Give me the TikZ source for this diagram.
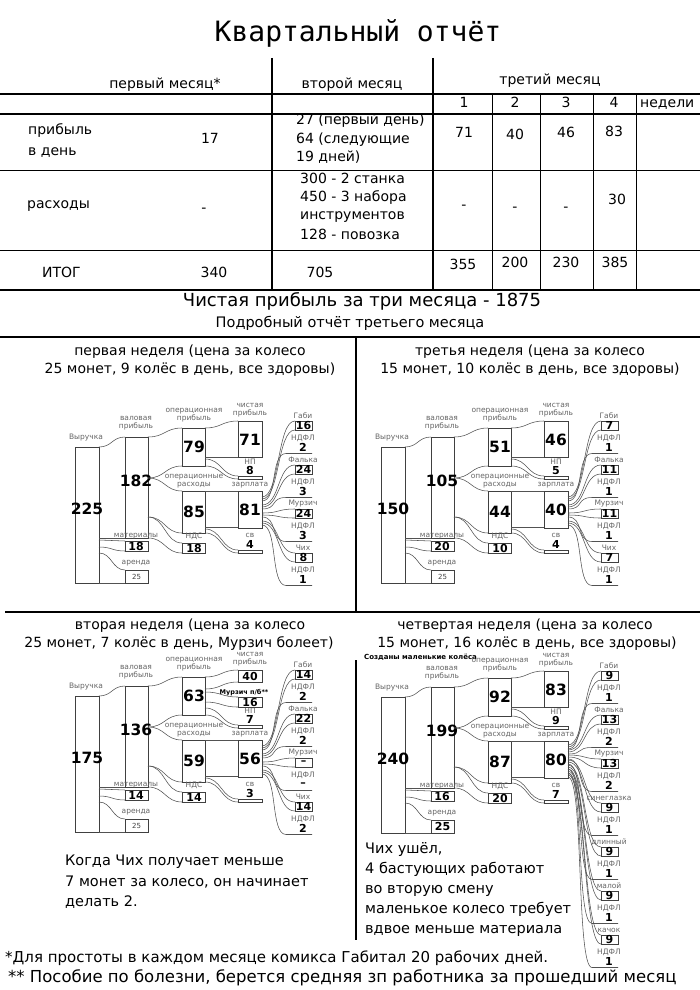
\documentclass[tikz,border=0pt]{standalone}
\usepackage{fontspec}
\setmainfont{DejaVu Sans}
\newfontfamily\monofnt{DejaVu Sans Mono}
\newcommand\flw[6]{%
 \draw[flow] (#1,#2) .. controls ({(#1+#4)/2},#2) and ({(#1+#4)/2},#5) .. (#4,#5);
 \draw[flow] (#1,#3) .. controls ({(#1+#4)/2},#3) and ({(#1+#4)/2},#6) .. (#4,#6);}
\newcommand\pers[6]{%
 \node[lbl] (\qp-#1-l) at (303,#2) {#4};
 \draw[bar] (295,#2+5) rectangle (312,#2+14);
 \node[pnum] (\qp-#1) at (303.5,#2+9.5) {#5};
 \draw[flow] (262,#3) .. controls (280,#3) and (277,#2+5) .. (295,#2+5);
 \draw[flow] (262,#3+2) .. controls (280,#3+2) and (277,#2+14) .. (295,#2+14);
 \node[lbl] (\qp-#1-tl) at (303,#2+22.5) {НДФЛ};
 \node[pnum] (\qp-#1-t) at (303,#2+31.5) {#6};
 \draw[flow] (262,#3+4) .. controls (278,#3+4) and (270,#2+37.5) .. (286,#2+37.5) -- (312,#2+37.5);}
\newcommand\drawsankey{%
 \draw[bar] (75,447) rectangle (99,583);
 \node[lbl] (\qp-revl) at (86,438) {Выручка};
 \node[bnum] (\qp-rev) at (87,509) {\vR};
 \draw[bar] (125,437) rectangle (148,538);
 \node[lbl] (\qp-grl) at (136,423) {валовая\\прибыль};
 \node[bnum] (\qp-gr) at (136,481) {\vG};
 \draw[bar] (182,428) rectangle (205,466);
 \node[lbl] (\qp-opl) at (194,415) {операционная\\прибыль};
 \node[bnum] (\qp-op) at (194,447) {\vOP};
 \draw[bar] (182,491) rectangle (205,533);
 \node[lbl] (\qp-oel) at (194,481) {операционные\\расходы};
 \node[bnum] (\qp-oe) at (194,512) {\vOE};
 \node[lbl] (\qp-netl) at (250,410) {чистая\\прибыль};
 \node[lbl] (\qp-npl) at (250,462) {НП};
 \node[pnum] (\qp-np) at (250,470.5) {\vNP};
 \draw[bar] (238,476) rectangle (262,479);
 \draw[bar] (238,491) rectangle (262,528);
 \node[lbl] (\qp-sall) at (250,485) {зарплата};
 \node[bnum] (\qp-sal) at (250,510) {\vS};
 \node[lbl] (\qp-svl) at (250,535) {св};
 \node[pnum] (\qp-sv) at (250,544) {\vSV};
 \draw[bar] (238,550) rectangle (262,553);
 \node[lbl] (\qp-matl) at (136,536) {материалы};
 \draw[bar] (125,541) rectangle (148,551);
 \node[pnum] (\qp-mat) at (136,546) {\vM};
 \node[lbl] (\qp-rentl) at (136,563) {аренда};
 \draw[bar] (125,570) rectangle (148,583);
 \node[\rentst] (\qp-rent) at (136.5,576.5) {25};
 \node[lbl] (\qp-ndsl) at (194,536) {НДС};
 \draw[bar] (182,543) rectangle (205,553);
 \node[pnum] (\qp-nds) at (194,548) {\vN};
 \flw{99}{447}{538}{125}{437}{538}
 \flw{99}{540}{547}{125}{541}{551}
 \flw{99}{553}{583}{125}{570}{583}
 \flw{148}{437}{478}{182}{428}{466}
 \flw{148}{478}{517}{182}{491}{533}
 \flw{148}{517}{538}{182}{543}{553}
 \flw{205}{491}{527}{238}{491}{527}
 \flw{205}{529}{533}{238}{550}{553}}
\newcommand\stdnet{%
 \draw[bar] (238,421) rectangle (262,457);
 \node[bnum] (\qp-net) at (250,440) {\vNet};
 \flw{205}{428}{457}{238}{421}{457}
 \flw{205}{459}{466}{238}{476}{479}}
\begin{document}
\begin{tikzpicture}[x=1pt,y=-1pt,
  flow/.style={draw=black!68,line width=0.55pt},
  bar/.style={draw=black!75,line width=0.6pt},
  rule/.style={draw=black,line width=1.4pt},
  thinrule/.style={draw=black,line width=1pt},
  lbl/.style={font=\fontsize{7.5}{8.5}\selectfont,text=black!60,inner sep=0pt,align=center},
  bnum/.style={font=\fontsize{15.5}{16}\selectfont\bfseries,inner sep=0pt},
  pnum/.style={font=\fontsize{11}{12}\selectfont\bfseries,inner sep=0pt},
  snum/.style={font=\fontsize{7}{8}\selectfont,text=black!75,inner sep=0pt},
  tt/.style={font=\fontsize{14}{16}\selectfont,inner sep=0pt,text height=10pt,text depth=3pt},
  ttl/.style={tt,anchor=west},
  hd/.style={font=\fontsize{14}{18}\selectfont,inner sep=0pt},
  note/.style={font=\fontsize{14.5}{18}\selectfont,inner sep=0pt,anchor=west,text height=10.5pt,text depth=3.5pt},
  foot/.style={font=\fontsize{15}{18}\selectfont,inner sep=0pt,anchor=west},
]
\useasboundingbox (0,0) rectangle (700,990);
\fill[white] (0,0) rectangle (700,990);
% ---------- title and table
\node[font=\monofnt\fontsize{28}{30}\selectfont,inner sep=0pt] (title) at (358,33) {Квартальный отчёт};
\draw[rule] (0,94) -- (700,94);
\draw[rule] (0,114) -- (700,114);
\draw[thinrule] (0,170) -- (700,170);
\draw[thinrule] (0,250) -- (700,250);
\draw[rule] (0,290) -- (700,290);
\draw[rule] (272,58) -- (272,290);
\draw[rule] (433,58) -- (433,290);
\foreach \x in {492,540,593,636} \draw[thinrule] (\x,94) -- (\x,290);
\node[tt] (h1) at (165,85) {первый месяц*};
\node[tt] (h2) at (352,85) {второй месяц};
\node[tt] (h3) at (550,81) {третий месяц};
\node[tt] (w1) at (464,104) {1};
\node[tt] (w2) at (515,104) {2};
\node[tt] (w3) at (566,104) {3};
\node[tt] (w4) at (614,104) {4};
\node[ttl] (w5) at (640,104) {недели};
\node[ttl] (r1a) at (28,131) {прибыль};
\node[ttl] (r1b) at (28,152) {в день};
\node[tt] (r1c) at (210,140) {17};
\node[ttl] (r1d) at (296,121) {27 (первый день)};
\node[ttl] (r1e) at (296,140) {64 (следующие};
\node[ttl] (r1f) at (296,158) {19 дней)};
\node[tt] (r1g) at (464,134) {71};
\node[tt] (r1h) at (515,136) {40};
\node[tt] (r1i) at (566,134) {46};
\node[tt] (r1j) at (614,133) {83};
\node[ttl] (r2a) at (27,205) {расходы};
\node[tt] (r2b) at (204,209) {-};
\node[ttl] (r2c) at (300,180) {300 - 2 станка};
\node[ttl] (r2d) at (300,198) {450 - 3 набора};
\node[ttl] (r2e) at (300,216) {инструментов};
\node[ttl] (r2f) at (300,236) {128 - повозка};
\node[tt] (r2g) at (464,206) {-};
\node[tt] (r2h) at (515,208) {-};
\node[tt] (r2i) at (566,208) {-};
\node[tt] (r2j) at (617,201) {30};
\node[ttl] (r3a) at (42,274) {ИТОГ};
\node[tt] (r3b) at (214,274) {340};
\node[tt] (r3c) at (320,274) {705};
\node[tt] (r3d) at (463,266) {355};
\node[tt] (r3e) at (515,264) {200};
\node[tt] (r3f) at (566,264) {230};
\node[tt] (r3g) at (615,264) {385};
\node[font=\fontsize{18}{20}\selectfont,inner sep=0pt] (sum) at (362,301) {Чистая прибыль за три месяца - 1875};
\node[font=\fontsize{14.5}{16}\selectfont,inner sep=0pt] (sub) at (350,323) {Подробный отчёт третьего месяца};
% ---------- panel frame
\draw[line width=2pt] (0,337) -- (700,337);
\draw[rule] (356,337) -- (356,612);
\draw[rule] (5,612) -- (700,612);
\draw[rule] (356,660) -- (356,940);
% headers
\node[hd] (q1h1) at (190,352) {первая неделя (цена за колесо};
\node[hd] (q1h2) at (190,370) {25 монет, 9 колёс в день, все здоровы)};
\node[hd] (q2h1) at (530,352) {третья неделя (цена за колесо};
\node[hd] (q2h2) at (530,370) {15 монет, 10 колёс в день, все здоровы)};
\node[hd] (q3h1) at (190,626) {вторая неделя (цена за колесо};
\node[hd] (q3h2) at (179,644) {25 монет, 7 колёс в день, Мурзич болеет)};
\node[hd] (q4h1) at (525,626) {четвертая неделя (цена за колесо};
\node[hd] (q4h2) at (527,644) {15 монет, 16 колёс в день, все здоровы)};
\node[font=\fontsize{7}{8}\selectfont\bfseries,inner sep=0pt,anchor=west] (q4new) at (364,657) {Созданы маленькие колёса};
% ---------- Q1
\begin{scope}
 \def\qp{q1}\def\vR{225}\def\vG{182}\def\vOP{79}\def\vOE{85}\def\vNet{71}\def\vNP{8}
 \def\vS{81}\def\vSV{4}\def\vM{18}\def\vN{18}\def\rentst{snum}
 \drawsankey\stdnet
 \pers{a}{416}{497}{Габи}{16}{2}
 \pers{b}{460}{505}{Фалька}{24}{3}
 \pers{c}{504}{513}{Мурзич}{24}{3}
 \pers{d}{548}{521}{Чих}{8}{1}
\end{scope}
% ---------- Q2 (third week)
\begin{scope}[shift={(306,0)}]
 \def\qp{q2}\def\vR{150}\def\vG{105}\def\vOP{51}\def\vOE{44}\def\vNet{46}\def\vNP{5}
 \def\vS{40}\def\vSV{4}\def\vM{20}\def\vN{10}\def\rentst{snum}
 \drawsankey\stdnet
 \pers{a}{416}{497}{Габи}{7}{1}
 \pers{b}{460}{505}{Фалька}{11}{1}
 \pers{c}{504}{513}{Мурзич}{11}{1}
 \pers{d}{548}{521}{Чих}{7}{1}
\end{scope}
% ---------- Q3 (second week)
\begin{scope}[shift={(0,249)}]
 \def\qp{q3}\def\vR{175}\def\vG{136}\def\vOP{63}\def\vOE{59}\def\vNP{7}
 \def\vS{56}\def\vSV{3}\def\vM{14}\def\vN{14}\def\rentst{snum}
 \drawsankey
 \draw[bar] (238,421) rectangle (262,433);
 \node[pnum] (q3-net) at (250,427) {40};
 \node[font=\fontsize{6.5}{7}\selectfont\bfseries,inner sep=0pt] (q3-murl) at (244,444) {Мурзич п/б**};
 \draw[bar] (238,448) rectangle (262,458);
 \node[pnum] (q3-mur) at (250,453) {16};
 \flw{205}{428}{440}{238}{421}{433}
 \flw{205}{443}{453}{238}{448}{458}
 \flw{205}{459}{466}{238}{476}{479}
 \pers{a}{416}{497}{Габи}{14}{2}
 \pers{b}{460}{505}{Фалька}{22}{2}
 \pers{c}{504}{513}{Мурзич}{--}{--}
 \pers{d}{548}{521}{Чих}{14}{2}
\end{scope}
% ---------- Q4 (fourth week)
\begin{scope}[shift={(306,250)}]
 \def\qp{q4}\def\vR{240}\def\vG{199}\def\vOP{92}\def\vOE{87}\def\vNet{83}\def\vNP{9}
 \def\vS{80}\def\vSV{7}\def\vM{16}\def\vN{20}\def\rentst{pnum}
 \drawsankey\stdnet
 \pers{a}{416}{495}{Габи}{9}{1}
 \pers{b}{460}{500}{Фалька}{13}{2}
 \pers{c}{504}{505}{Мурзич}{13}{2}
 \pers{d}{548}{510}{синеглазка}{9}{1}
 \pers{e}{592}{515}{длинный}{9}{1}
 \pers{f}{636}{519}{малой}{9}{1}
 \pers{g}{680}{523}{качок}{9}{1}
\end{scope}
% ---------- notes
\node[note] (n1) at (65,862) {Когда Чих получает меньше};
\node[note] (n2) at (65,883) {7 монет за колесо, он начинает};
\node[note] (n3) at (65,903) {делать 2.};
\node[note] (m1) at (365,850) {Чих ушёл,};
\node[note] (m2) at (365,870) {4 бастующих работают};
\node[note] (m3) at (365,890) {во вторую смену};
\node[note] (m4) at (365,910) {маленькое колесо требует};
\node[note] (m5) at (365,930) {вдвое меньше материала};
\node[foot] (f1) at (5,958) {*Для простоты в каждом месяце комикса Габитал 20 рабочих дней.};
\node[foot,font=\fontsize{16.5}{18}\selectfont] (f2) at (8,978) {** Пособие по болезни, берется средняя зп работника за прошедший месяц};
\end{tikzpicture}
\end{document}
